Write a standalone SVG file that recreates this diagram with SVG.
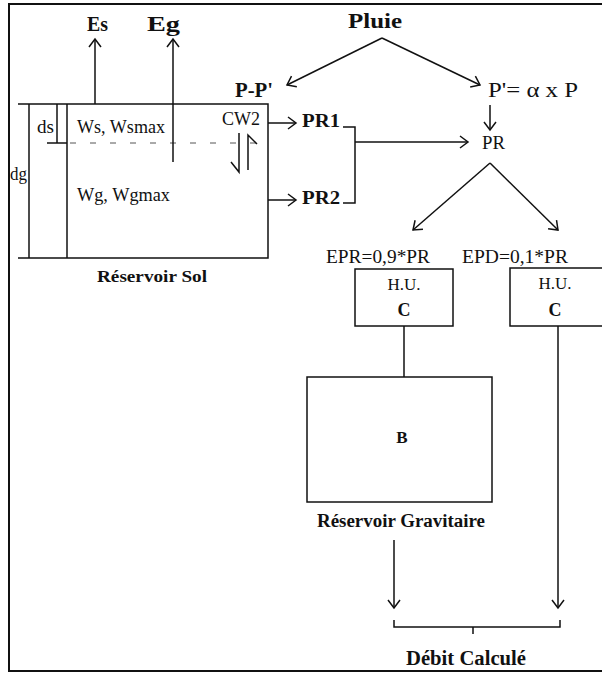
<svg xmlns="http://www.w3.org/2000/svg" width="602" height="673" viewBox="0 0 602 673">
<style>
text{font-family:"Liberation Serif","Times New Roman",serif;fill:#111;}
.b{font-weight:bold;}
.l{stroke:#111;stroke-width:1.5;fill:none;}
.f{stroke:#111;stroke-width:2;fill:none;}
.dot{stroke:#555;stroke-width:1;stroke-dasharray:6 14;fill:none;}
.a{stroke:#111;stroke-width:1.5;fill:none;marker-end:url(#ah);}
</style>
<defs>
<marker id="ah" markerWidth="12" markerHeight="14" refX="9" refY="7" orient="auto" markerUnits="userSpaceOnUse">
<path d="M1,1 L9,7 L1,13" stroke="#111" stroke-width="1.5" fill="none"/>
</marker>
</defs>
<rect width="602" height="673" fill="#fff"/>
<g id="frame">
<path class="f" d="M9,672 L9,4 L602,4"/>
<path class="f" d="M9,671 L602,671"/>
</g>
<g id="reservoir-sol">
<path class="l" d="M18,104 L268,104 L268,258 L18,258"/>
<path class="l" d="M67,104 L67,258"/>
<path class="l" d="M29,104 L29,258"/>
<path class="l" d="M57,104 L57,143"/>
<path class="l" d="M47,143 L67,143"/>
<path class="dot" d="M70,143 L268,143"/>
<text x="37" y="133" font-size="18" textLength="17" lengthAdjust="spacingAndGlyphs">ds</text>
<text x="10" y="180" font-size="18" textLength="17" lengthAdjust="spacingAndGlyphs">dg</text>
<text x="77" y="133" font-size="18" textLength="88" lengthAdjust="spacingAndGlyphs">Ws, Wsmax</text>
<text x="77" y="201" font-size="18" textLength="93" lengthAdjust="spacingAndGlyphs">Wg, Wgmax</text>
<text x="222" y="125" font-size="18" textLength="38" lengthAdjust="spacingAndGlyphs">CW2</text>
<text class="b" x="97" y="282" font-size="17" textLength="110" lengthAdjust="spacingAndGlyphs">Réservoir Sol</text>
</g>
<g id="es"><text class="b" x="87" y="31" font-size="20" textLength="21" lengthAdjust="spacingAndGlyphs">Es</text></g>
<g id="eg"><text class="b" x="147" y="31" font-size="20" textLength="33" lengthAdjust="spacingAndGlyphs">Eg</text></g>
<g id="pluie"><text class="b" x="348" y="28" font-size="20" textLength="54" lengthAdjust="spacingAndGlyphs">Pluie</text></g>
<g id="pp"><text class="b" x="235" y="97" font-size="20" textLength="38" lengthAdjust="spacingAndGlyphs">P-P'</text></g>
<g id="pprime"><text x="488" y="97" font-size="20" textLength="90" lengthAdjust="spacingAndGlyphs">P'= α x P</text></g>
<g id="pr1"><text class="b" x="302" y="127" font-size="19" textLength="38" lengthAdjust="spacingAndGlyphs">PR1</text></g>
<g id="pr2"><text class="b" x="302" y="204" font-size="19" textLength="38" lengthAdjust="spacingAndGlyphs">PR2</text></g>
<g id="pr"><text x="482" y="149" font-size="19" textLength="23" lengthAdjust="spacingAndGlyphs">PR</text></g>
<g id="epr"><text x="326" y="263" font-size="18" textLength="104" lengthAdjust="spacingAndGlyphs">EPR=0,9*PR</text></g>
<g id="epd"><text x="462" y="263" font-size="18" textLength="106" lengthAdjust="spacingAndGlyphs">EPD=0,1*PR</text></g>
<g id="hu-left">
<rect class="l" x="355" y="269" width="98" height="57"/>
<text x="404" y="290" font-size="17" text-anchor="middle">H.U.</text>
<text class="b" x="404" y="316" font-size="18" text-anchor="middle">C</text>
</g>
<g id="hu-right">
<path class="l" d="M604,268 L510,268 L510,326 L604,326"/>
<text x="555" y="289" font-size="17" text-anchor="middle">H.U.</text>
<text class="b" x="555" y="316" font-size="18" text-anchor="middle">C</text>
</g>
<g id="reservoir-gravitaire">
<rect class="l" x="307" y="377" width="185" height="125"/>
<text class="b" x="402" y="443" font-size="17" text-anchor="middle">B</text>
<text class="b" x="317" y="527" font-size="18" textLength="168" lengthAdjust="spacingAndGlyphs">Réservoir Gravitaire</text>
</g>
<g id="debit"><text class="b" x="406" y="665" font-size="20" textLength="120" lengthAdjust="spacingAndGlyphs">Débit Calculé</text></g>
<g id="connectors">
<path class="a" d="M95,104 L95,39"/>
<path class="a" d="M173,162 L173,39"/>
<path class="a" d="M382,38 L287,85"/>
<path class="a" d="M382,38 L480,85"/>
<path class="a" d="M490,105 L490,130"/>
<path class="a" d="M268,123 L296,123"/>
<path class="a" d="M268,200 L296,200"/>
<path class="l" d="M343,127 L355,127 L355,203 L343,203"/>
<path class="a" d="M355,142 L468,142"/>
<path class="a" d="M490,163 L413,230"/>
<path class="a" d="M490,163 L558,230"/>
<path class="l" d="M239,133 L239,172 L231,162"/>
<path class="l" d="M248,170 L248,135 L257,144"/>
<path class="l" d="M404,326 L404,377"/>
<path class="a" d="M558,326 L558,608"/>
<path class="a" d="M394,540 L394,608"/>
<path class="l" d="M394,620 L394,627 L560,627 L560,620 M473,627 L473,634"/>
</g>
</svg>
